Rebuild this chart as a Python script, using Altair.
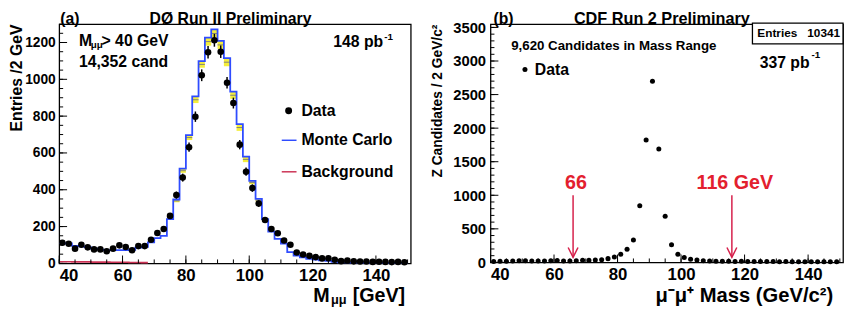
import altair as alt
import pandas as pd

FONT = "Liberation Sans"
RED = "#e3202e"
ARROW = "#d61f4a"
BLUE = "#2f4cff"

# ---------------- panel (a): DØ Run II ----------------
d0_centers = list(range(41, 150, 2))
d0_counts = [112, 107, 80, 101, 87, 76, 76, 66, 80, 98,
             89, 71, 94, 94, 128, 165, 187, 258, 371, 466,
             631, 797, 1022, 1147, 1212, 1150, 981, 871, 645, 498,
             409, 325, 236, 187, 164, 124, 101, 59, 48, 41,
             34, 27, 28, 20, 12, 16, 11, 10, 10, 8,
             9, 8, 7, 8, 6]
d0_edges = list(range(40, 150, 2))
d0_mc = [110, 108, 95, 92, 88, 80, 75, 72, 72, 72,
         72, 74, 86, 90, 114, 137, 150, 240, 347, 515,
         697, 907, 1099, 1227, 1271, 1209, 1115, 933, 756, 580,
         448, 350, 240, 172, 133, 107, 61, 42, 32, 25,
         20, 17, 14, 8, 6, 5, 4, 4, 3, 3,
         3, 2, 2, 2, 2]
d0_bkg_edges = list(range(40, 70, 2))
d0_bkg = [9, 9, 8, 8, 8, 7, 7, 7, 6, 6, 6, 5, 5, 4, 4]
band_edges = list(range(76, 104, 2))
band_height = [15, 23, 27, 36, 36, 44, 44, 44, 44, 39, 36, 30, 18, 15]
d0_ylabels = [0, 200, 400, 600, 800, 1000, 1200]
d0_xlabels = [40, 60, 80, 100, 120, 140]

# ---------------- panel (b): CDF Run 2 ----------------
cdf_centers = list(range(41, 150, 2))
cdf_counts = [12, 18, 17, 22, 26, 24, 22, 20, 22, 25,
              28, 22, 20, 26, 32, 30, 34, 38, 56, 82,
              120, 196, 332, 845, 1825, 2700, 1690, 686, 264, 122,
              73, 46, 34, 26, 22, 18, 18, 16, 15, 16,
              14, 15, 12, 12, 13, 11, 12, 10, 11, 10,
              9, 11, 9, 8, 8]
cdf_ylabels = [0, 500, 1000, 1500, 2000, 2500, 3000, 3500]
cdf_xlabels = [40, 60, 80, 100, 120, 140]
arrow_mass = [66, 116]
arrow_text = ["66", "116 GeV"]

# ---------- scales and axes ----------
W1, H1 = 357, 243
xs1 = alt.Scale(domain=[40, 151], nice=False, zero=False)
ys1 = alt.Scale(domain=[0, 1300], nice=False)
xa1 = alt.Axis(values=d0_xlabels, title="", labelPadding=4, labelFontSize=17, format="d")
ya1 = alt.Axis(values=d0_ylabels, title="Entries /2 GeV", titleAnchor="end", titleFontSize=16,
               titlePadding=0, labelPadding=4, labelFontSize=14, format="d")

W2, H2 = 358, 242
xs2 = alt.Scale(domain=[40, 151], nice=False, zero=False)
ys2 = alt.Scale(domain=[0, 3550], nice=False)
xa2 = alt.Axis(values=cdf_xlabels, title="", labelPadding=4, labelFontSize=17, format="d")
ya2 = alt.Axis(values=cdf_ylabels, title="Z Candidates / 2 GeV/c²", titleAnchor="end", titleFontSize=14,
               titlePadding=8, labelPadding=5, labelFontSize=15, format="d")


def label(text, x, y, size, align="left", color="black", dx=0):
    return alt.Chart(pd.DataFrame({"t": [text]})).mark_text(
        align=align, baseline="middle", font=FONT, fontSize=size,
        fontWeight="bold", color=color, dx=dx
    ).encode(x=alt.value(x), y=alt.value(y), text="t:N")


def xtick_layer(values, scale, axis, H, length):
    return alt.Chart(pd.DataFrame({"v": values})).mark_rule(color="black", strokeWidth=1).encode(
        x=alt.X("v:Q", scale=scale, axis=axis), y=alt.value(H), y2=alt.value(H - length))


def ytick_layer(values, scale, axis, length):
    return alt.Chart(pd.DataFrame({"v": values})).mark_rule(color="black", strokeWidth=1).encode(
        y=alt.Y("v:Q", scale=scale, axis=axis), x=alt.value(0), x2=alt.value(length))


# ---------- left panel ----------
mc_df = pd.DataFrame({"x": d0_edges + [150], "y": d0_mc + [d0_mc[-1]]})
bkg_df = pd.DataFrame({"x": d0_bkg_edges, "y": d0_bkg})
mc_at = dict(zip(d0_edges, d0_mc))
band_df = pd.DataFrame({
    "lo": band_edges,
    "hi": [e + 2 for e in band_edges],
    "top": [mc_at[e] for e in band_edges],
    "bot": [mc_at[e] - h for e, h in zip(band_edges, band_height)],
    "mid": [mc_at[e] - h / 2 for e, h in zip(band_edges, band_height)],
})
d0_df = pd.DataFrame({"c": d0_centers, "n": d0_counts})

band = alt.Chart(band_df).mark_rect(color="#f4ee3c").encode(
    x=alt.X("lo:Q", scale=xs1, axis=xa1), x2="hi:Q",
    y=alt.Y("bot:Q", scale=ys1, axis=ya1), y2="top:Q")
band_mid = alt.Chart(band_df).mark_rule(color="#808080", strokeWidth=1).encode(
    x=alt.X("lo:Q", scale=xs1, axis=xa1), x2="hi:Q",
    y=alt.Y("mid:Q", scale=ys1, axis=ya1))
mc_line = alt.Chart(mc_df).mark_line(interpolate="step-after", color=BLUE, strokeWidth=1.8).encode(
    x=alt.X("x:Q", scale=xs1, axis=xa1), y=alt.Y("y:Q", scale=ys1, axis=ya1))
bkg_line = alt.Chart(bkg_df).mark_line(interpolate="step-after", color="#cc3355", strokeWidth=1.6).encode(
    x=alt.X("x:Q", scale=xs1, axis=xa1), y=alt.Y("y:Q", scale=ys1, axis=ya1))
d0_err = alt.Chart(d0_df).transform_calculate(
    lo="datum.n - sqrt(datum.n)", hi="datum.n + sqrt(datum.n)"
).mark_rule(color="black", strokeWidth=1.5).encode(
    x=alt.X("c:Q", scale=xs1, axis=xa1), y=alt.Y("lo:Q", scale=ys1, axis=ya1), y2="hi:Q")
d0_pts = alt.Chart(d0_df).mark_circle(color="black", opacity=1, size=45).encode(
    x=alt.X("c:Q", scale=xs1, axis=xa1), y=alt.Y("n:Q", scale=ys1, axis=ya1))

leg_dot = alt.Chart(pd.DataFrame({"t": ["Data"]})).mark_circle(color="black", opacity=1, size=50).encode(
    x=alt.value(233), y=alt.value(88))
leg_mc = alt.Chart(pd.DataFrame({"t": ["mc"]})).mark_rule(color=BLUE, strokeWidth=1.5).encode(
    x=alt.value(226), x2=alt.value(241), y=alt.value(118))
leg_bg = alt.Chart(pd.DataFrame({"t": ["bg"]})).mark_rule(color="#cc3355", strokeWidth=1.5).encode(
    x=alt.value(226), x2=alt.value(241), y=alt.value(150))

left = alt.layer(
    band, band_mid, mc_line, bkg_line, d0_err, d0_pts,
    xtick_layer(list(range(40, 152, 5)), xs1, xa1, H1, 4),
    xtick_layer(d0_xlabels, xs1, xa1, H1, 8),
    ytick_layer(list(range(0, 1301, 50)), ys1, ya1, 4),
    ytick_layer(d0_ylabels, ys1, ya1, 8),
    leg_dot, leg_mc, leg_bg,
    label("Data", 246, 88, 16),
    label("Monte Carlo", 246, 118, 16),
    label("Background", 246, 150, 16),
    label("(a)", 1, -5, 16),
    label("DØ Run II Preliminary", 174, -5, 16, align="center"),
    label("M", 20, 17, 16),
    label("μμ", 32, 21, 10),
    label("> 40 GeV", 43, 17, 16),
    label("14,352 cand", 20, 39, 16),
    label("148 pb", 329, 18, 16, align="right"),
    label("-1", 330, 13, 10),
    label("M", 258, 276, 20),
    label("μμ", 276, 280, 13),
    label("[GeV]", 298, 276, 20),
).properties(width=W1, height=H1)

# ---------- right panel ----------
cdf_df = pd.DataFrame({"c": cdf_centers, "n": cdf_counts})
arr_df = pd.DataFrame({"m": arrow_mass, "t": arrow_text})

cdf_pts = alt.Chart(cdf_df).mark_circle(color="black", opacity=1, size=26).encode(
    x=alt.X("c:Q", scale=xs2, axis=xa2), y=alt.Y("n:Q", scale=ys2, axis=ya2))
arr_line = alt.Chart(arr_df).mark_rule(color=ARROW, strokeWidth=1.5).encode(
    x=alt.X("m:Q", scale=xs2, axis=xa2), y=alt.datum(1000, scale=ys2, axis=ya2), y2=alt.datum(75))
arr_head = alt.Chart(arr_df).mark_point(shape="M-0.5,-1L0,0L0.5,-1", filled=False, size=400,
                                        color=ARROW, strokeWidth=1.5, opacity=1).encode(
    x=alt.X("m:Q", scale=xs2, axis=xa2), y=alt.datum(75, scale=ys2, axis=ya2))
arr_text = alt.Chart(arr_df).mark_text(font=FONT, fontSize=20, fontWeight="bold", color=RED,
                                       align="center", baseline="middle", dx=3).encode(
    x=alt.X("m:Q", scale=xs2, axis=xa2), y=alt.datum(1180, scale=ys2, axis=ya2), text="t:N")

stat_box = alt.Chart(pd.DataFrame({"t": ["box"]})).mark_rect(fill="white", stroke="black", strokeWidth=1.3).encode(
    x=alt.value(266), x2=alt.value(358), y=alt.value(-1), y2=alt.value(20))
data_dot = alt.Chart(pd.DataFrame({"t": ["Data"]})).mark_circle(color="black", opacity=1, size=26).encode(
    x=alt.value(35), y=alt.value(46))

right = alt.layer(
    cdf_pts, arr_line, arr_head, arr_text,
    xtick_layer(list(range(40, 152, 5)), xs2, xa2, H2, 4),
    xtick_layer(cdf_xlabels, xs2, xa2, H2, 8),
    ytick_layer(list(range(0, 3551, 100)), ys2, ya2, 4),
    ytick_layer(cdf_ylabels, ys2, ya2, 8),
    stat_box,
    label("Entries", 271, 9.5, 12),
    label("10341", 355, 9.5, 12, align="right"),
    label("(b)", 3, -5, 16),
    label("CDF Run 2 Preliminary", 174, -5, 16.5, align="center"),
    label("9,620 Candidates in Mass Range", 21, 22, 13.5),
    data_dot,
    label("Data", 45, 47, 16),
    label("337 pb", 324, 40, 16, align="right"),
    label("-1", 326, 31, 10),
    label("μ⁻μ⁺ Mass (GeV/c²)", 348, 276, 20.5, align="right"),
).properties(width=W2, height=H2)

chart = alt.hconcat(left, right, spacing=17).properties(
    padding=0, background="white"
).configure_view(stroke="black", strokeWidth=1.3).configure_axis(
    labelFont=FONT, labelFontSize=14, labelFontWeight="bold", labelColor="black",
    titleFont=FONT, titleFontSize=14, titleFontWeight="bold", titleColor="black",
    ticks=False, tickSize=0, domain=False, grid=False
)

chart.save("out.html", embed_options={"renderer": "svg", "actions": False})
